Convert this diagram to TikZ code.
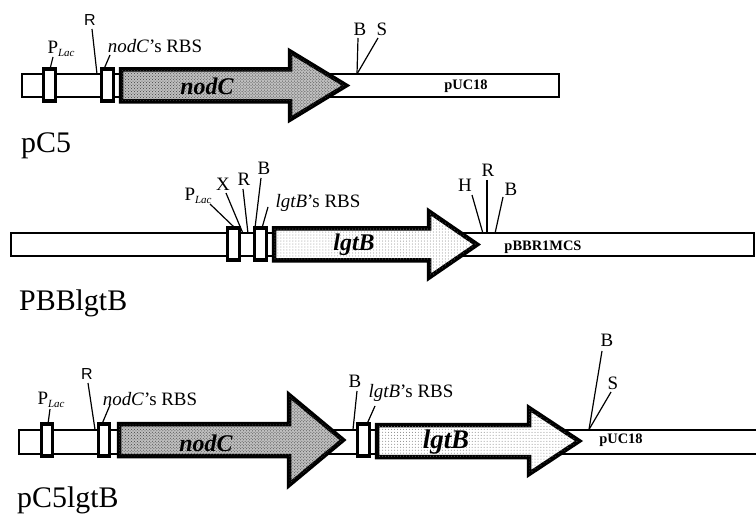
\documentclass[tikz,border=0pt]{standalone}
\usepackage{fontspec}
\setmainfont{Liberation Serif}
\newfontfamily\rsans{Liberation Sans}
\usetikzlibrary{patterns}
\newcommand\geneshape[6]{({#1},{#4-#5}) -- ({#2},{#4-#5}) -- ({#2},{#4-#6}) -- ({#3},{#4}) -- ({#2},{#4+#6}) -- ({#2},{#4+#5}) -- ({#1},{#4+#5}) -- cycle}
\newcommand\plac{P\raisebox{-3.5bp}{\fontsize{11}{11}\selectfont\itshape Lac}}
\begin{document}
\begin{tikzpicture}[x=1bp,y=-1bp,
  bar/.style={draw, line width=2bp, fill=white},
  sbox/.style={draw, fill=white, line width=3.2bp, minimum width=11.5bp, minimum height=32bp, inner sep=0pt},
  darkgene/.style={draw, line width=4.5bp, miter limit=10, fill=gray!50, postaction={pattern=crosshatch dots, pattern color=black!75}},
  lightgene/.style={draw, line width=4.5bp, miter limit=10, fill=white, postaction={pattern=dots, pattern color=gray}},
  lead/.style={line width=1.2bp},
  site/.style={inner sep=0pt, font=\fontsize{19}{19}\selectfont},
  rsite/.style={inner sep=0pt, font=\rsans\fontsize{16}{16}\selectfont},
  lbl/.style={inner sep=0pt, font=\fontsize{19}{19}\selectfont},
  vec/.style={inner sep=0pt, font=\bfseries\fontsize{14.5}{14.5}\selectfont},
  gname/.style={inner sep=0pt, font=\bfseries\itshape\fontsize{24}{24}\selectfont},
  pname/.style={inner sep=0pt, anchor=base west, font=\fontsize{30}{30}\selectfont}]
\useasboundingbox (0,0) rectangle (756,516);

% ---------------- Row 1: pC5 ----------------
\draw[bar] (22,74) rectangle (559,97);
\node[sbox] (r1pl) at (49.5,85) {};
\node[sbox] (r1rbs) at (107.5,85) {};
\draw[darkgene] \geneshape{121}{290}{346}{85.5}{16}{34};
\node[gname] (r1g) at (207,86) {nodC};
\node[vec] (r1v) at (466,86) {pUC18};
\node[lbl] (r1plt) at (61,49) {\plac};
\node[rsite] (r1R) at (90,20) {R};
\node[lbl] (r1rbst) at (155,46) {\textit{nodC}'s RBS};
\node[site] (r1B) at (360,29) {B};
\node[site] (r1S) at (382,29) {S};
\coordinate (a1) at (53,57); \coordinate (a2) at (50,69);
\coordinate (b1) at (92,29); \coordinate (b2) at (97,74);
\coordinate (c1) at (110,55); \coordinate (c2) at (104,69);
\coordinate (d1) at (358,38); \coordinate (d2) at (357,74);
\coordinate (e1) at (378,38);
\draw[lead] (a1) -- (a2);
\draw[lead] (b1) -- (b2);
\draw[lead] (c1) -- (c2);
\draw[lead] (d1) -- (d2);
\draw[lead] (e1) -- (d2);
\node[pname] (r1name) at (21,153) {pC5};

% ---------------- Row 2: PBBlgtB ----------------
\draw[bar] (11,233.5) rectangle (754,256.5);
\node[sbox] (r2pl) at (233.5,244) {};
\node[sbox] (r2rbs) at (260.5,244) {};
\draw[lightgene] \geneshape{274}{429}{477}{244.5}{16}{33};
\node[gname] (r2g) at (354,245) {lgtB};
\node[vec] (r2v) at (543,247) {pBBR1MCS};
\node[lbl] (r2plt) at (198,196) {\plac};
\node[site] (r2X) at (223,184) {X};
\node[site] (r2R) at (244,179) {R};
\node[site] (r2B) at (264,168) {B};
\node[lbl] (r2rbst) at (318,203) {\textit{lgtB}'s RBS};
\node[site] (r2H) at (465,185) {H};
\node[site] (r2R2) at (488,170) {R};
\node[site] (r2B2) at (511,189) {B};
\coordinate (f1) at (210,204); \coordinate (f2) at (235,228);
\coordinate (g1) at (226,193); \coordinate (g2) at (243,233.5);
\coordinate (h1) at (243,189); \coordinate (h2) at (248,233.5);
\coordinate (i1) at (261,178); \coordinate (i2) at (255,228);
\coordinate (j1) at (268,207); \coordinate (j2) at (262,228);
\coordinate (k1) at (472,195); \coordinate (k2) at (483,233.5);
\coordinate (l1) at (487,180); \coordinate (l2) at (487,233.5);
\coordinate (m1) at (503,197); \coordinate (m2) at (495,233.5);
\draw[lead] (f1) -- (f2);
\draw[lead] (g1) -- (g2);
\draw[lead] (h1) -- (h2);
\draw[lead] (i1) -- (i2);
\draw[lead] (j1) -- (j2);
\draw[lead] (k1) -- (k2);
\draw[lead] (l1) -- (l2);
\draw[lead] (m1) -- (m2);
\node[pname] (r2name) at (19,310) {PBBlgtB};

% ---------------- Row 3: pC5lgtB ----------------
\draw[bar] (19,429.5) rectangle (762,453.5);
\node[sbox] (r3pl) at (47,440) {};
\node[sbox] (r3rbs) at (104,440) {};
\node[sbox] (r3rbs2) at (363.5,440) {};
\draw[darkgene] \geneshape{119}{289}{343}{440}{16}{45};
\draw[lightgene] \geneshape{377}{529}{579}{441}{16}{33};
\node[gname] (r3g1) at (206,443) {nodC};
\node[gname, font=\bfseries\itshape\fontsize{27}{27}\selectfont] (r3g2) at (446,442) {lgtB};
\node[vec] (r3v) at (621,440) {pUC18};
\node[lbl] (r3plt) at (51,400) {\plac};
\node[rsite] (r3R) at (87,374) {R};
\node[lbl] (r3rbst) at (150,399) {\textit{nodC}'s RBS};
\node[site] (r3B) at (355,381) {B};
\node[lbl] (r3rbst2) at (411,393) {\textit{lgtB}'s RBS};
\node[site] (r3B2) at (607,340) {B};
\node[site] (r3S) at (613,383) {S};
\coordinate (n1) at (50,409); \coordinate (n2) at (48,424);
\coordinate (o1) at (88,383); \coordinate (o2) at (95,429.5);
\coordinate (p1) at (110,405); \coordinate (p2) at (102,424);
\coordinate (q1) at (357,391); \coordinate (q2) at (353,429.5);
\coordinate (s1) at (375,406); \coordinate (s2) at (367,424);
\coordinate (t1) at (602,351); \coordinate (t2) at (589,429.5);
\coordinate (u1) at (611,392);
\draw[lead] (n1) -- (n2);
\draw[lead] (o1) -- (o2);
\draw[lead] (p1) -- (p2);
\draw[lead] (q1) -- (q2);
\draw[lead] (s1) -- (s2);
\draw[lead] (t1) -- (t2);
\draw[lead] (u1) -- (t2);
\node[pname] (r3name) at (17,507) {pC5lgtB};
\end{tikzpicture}
\end{document}
